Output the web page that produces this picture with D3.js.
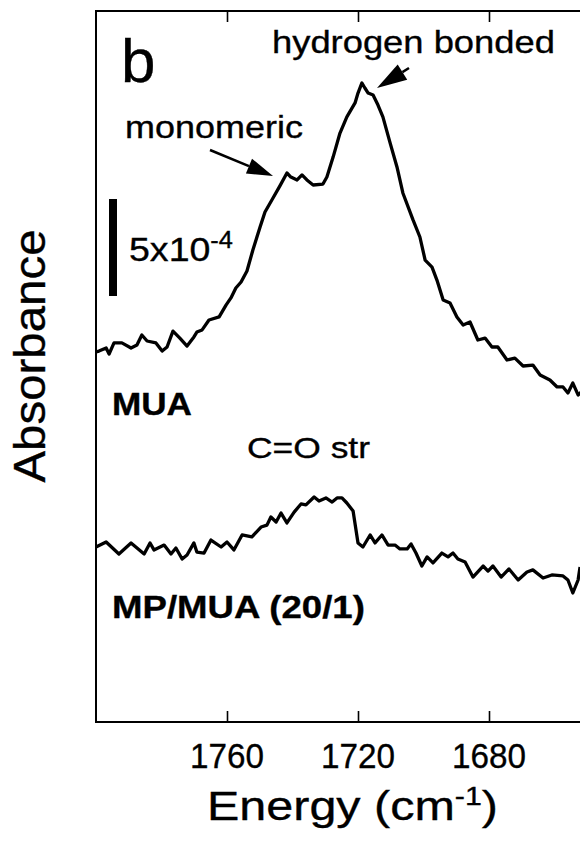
<!DOCTYPE html>
<html>
<head>
<meta charset="utf-8">
<script src="https://cdn.jsdelivr.net/npm/d3@7"></script>
<style>
  html, body { margin: 0; padding: 0; background: #fff; }
  svg { display: block; }
  text { font-family: "Liberation Sans", Arial, Helvetica, sans-serif; fill: #000; stroke: #000; stroke-width: 0.35; }
</style>
</head>
<body>
<div id="chart"></div>
<script>
// x ticks (cm-1)
const xTicks = [1760, 1720, 1680];
// MUA spectrum: wavenumber / absorbance (x1e-4, relative to its baseline)
const muaWn = [1800, 1799.1, 1796.9, 1796.0, 1794.5, 1792.1, 1789.3, 1787.5, 1786.0, 1784.4,
  1781.7, 1779.8, 1778.3, 1776.5, 1774.4, 1772.2, 1770.1, 1769.2, 1767.6, 1765.5,
  1762.4, 1760.3, 1758.8, 1757.3, 1755.7, 1753.9, 1752.1, 1749.9, 1748.4, 1746.3,
  1743.8, 1741.7, 1740.5, 1738.6, 1737.1, 1735.6, 1733.7, 1730.7, 1729.5, 1727.6,
  1725.5, 1723.4, 1720.9, 1720.0, 1718.8, 1717.9, 1716.9, 1715.4, 1713.9, 1712.4,
  1710.2, 1708.1, 1706.3, 1703.2, 1701.1, 1699.5, 1697.4, 1695.9, 1694.0, 1691.9,
  1689.8, 1687.9, 1685.8, 1683.4, 1681.2, 1679.1, 1677.3, 1674.5, 1672.1, 1669.6,
  1666.6, 1664.4, 1661.4, 1659.2, 1657.4, 1655.9, 1654.4, 1652.8, 1651.5];
const muaAbs = [0.07, 0.12, 0.28, -0.03, 0.54, 0.54, 0.28, 0.43, 0.95, 0.64,
  0.54, 0.12, 0.33, 1.15, 0.79, 0.38, 0.85, 1.10, 1.21, 1.72,
  1.88, 2.49, 2.86, 3.37, 3.68, 4.25, 5.33, 6.52, 7.29, 7.91,
  8.65, 9.30, 9.09, 8.94, 9.20, 8.94, 8.68, 8.73, 9.09, 10.12,
  11.36, 12.19, 12.91, 13.42, 13.94, 13.68, 13.42, 13.32, 12.80, 12.19,
  10.85, 9.61, 8.27, 6.88, 6.00, 4.81, 4.45, 3.78, 2.75, 2.60,
  1.88, 1.46, 1.62, 0.69, 0.79, 0.33, 0.33, -0.34, -0.24, -0.65,
  -0.60, -1.11, -1.37, -1.73, -1.73, -2.04, -1.53, -2.14, -1.95];
// MP/MUA (20/1) spectrum
const mpWn = [1800, 1796.9, 1793.0, 1789.3, 1785.3, 1783.5, 1782.3, 1779.2, 1777.1, 1775.6,
  1773.7, 1772.2, 1770.1, 1769.2, 1767.0, 1764.9, 1761.8, 1760.0, 1757.9, 1755.4,
  1752.4, 1749.6, 1747.8, 1746.6, 1745.0, 1743.5, 1741.7, 1739.5, 1737.4, 1735.9,
  1733.4, 1731.9, 1729.8, 1727.9, 1726.4, 1724.9, 1723.4, 1721.5, 1720.0, 1718.5,
  1716.3, 1714.8, 1712.7, 1710.8, 1708.7, 1707.2, 1705.0, 1703.8, 1702.3, 1700.5,
  1698.9, 1697.1, 1694.4, 1692.5, 1691.0, 1689.5, 1687.3, 1684.9, 1681.8, 1680.3,
  1678.8, 1676.3, 1673.9, 1671.1, 1668.4, 1666.6, 1663.5, 1660.8, 1657.4, 1655.9,
  1654.4, 1652.8, 1652.2];
const mpAbs = [0.02, 0.28, -0.34, 0.23, -0.34, 0.23, -0.13, 0.12, -0.34, -0.03,
  -0.60, -0.39, 0.23, -0.24, -0.29, 0.38, 0.02, 0.28, -0.13, 0.64,
  0.54, 1.05, 1.15, 1.57, 1.31, 1.77, 1.26, 1.82, 2.24, 2.19,
  2.60, 2.39, 2.55, 2.34, 2.55, 2.55, 2.29, 1.88, 0.23, 0.02,
  0.64, 0.23, 0.64, 0.12, 0.12, -0.08, -0.08, 0.18, -0.29, -0.96,
  -0.49, -0.80, -0.29, -0.49, -0.29, -0.60, -0.75, -1.53, -0.96, -1.22,
  -0.96, -1.53, -1.11, -1.68, -1.27, -1.16, -1.58, -1.42, -1.47, -1.68,
  -2.35, -1.68, -1.01];
// vertical offsets of the stacked spectra (x1e-4)
const muaOffset = 19;
const mpOffset = 9;
// scale bar: 5x10^-4
const barBase = 21.96;
const barSize = 5;

const width = 580;
const height = 842;
const margin = { top: 11, left: 96, bottom: 120 };

const svg = d3.select('#chart').append('svg')
  .attr('width', width)
  .attr('height', height);

const x = d3.scaleLinear()
  .domain([1800, 1640])
  .range([margin.left, 620]);
const y = d3.scaleLinear()
  .domain([0, 36.65])
  .range([height - margin.bottom, margin.top]);

// stretch a text horizontally so it covers the given width
function fit (sel, px, py, w) {
  const bw = sel.node().getComputedTextLength();
  sel.attr('transform', `translate(${px},${py}) scale(${w / bw},1)`);
}

// frame ------------------------------------------------------------------
const yBot = y(0);
const yTop = y(36.65);
svg.append('path')
  .attr('d', `M${width + 5},${yTop}H${x(1800)}V${yBot}H${width + 5}`)
  .attr('fill', 'none')
  .attr('stroke', '#000')
  .attr('stroke-width', 2);

// x axes (ticks in, top and bottom)
const xAxisB = d3.axisBottom(x).tickValues(xTicks).tickSize(-11).tickFormat('');
const xAxisT = d3.axisTop(x).tickValues(xTicks).tickSize(-11).tickFormat('');
svg.append('g').attr('transform', `translate(0,${yBot})`).call(xAxisB)
  .call(g => g.select('.domain').remove())
  .selectAll('line').attr('stroke-width', 1.6);
svg.append('g').attr('transform', `translate(0,${yTop})`).call(xAxisT)
  .call(g => g.select('.domain').remove())
  .selectAll('line').attr('stroke-width', 1.6);

// tick labels
svg.selectAll('.tick-label')
  .data(xTicks)
  .enter()
  .append('text')
  .attr('class', 'tick-label')
  .attr('font-size', 35)
  .text(d => d)
  .each(function (d) {
    const t = d3.select(this);
    const bw = this.getComputedTextLength();
    t.attr('transform', `translate(${x(d) - 37},768) scale(${74 / bw},1)`);
  });

// axis titles
const xt = svg.append('text').attr('font-size', 40);
xt.append('tspan').text('Energy (cm');
xt.append('tspan').attr('font-size', 25).attr('dy', -15).text('-1');
xt.append('tspan').attr('dy', 15).text(')');
fit(xt, 207, 820, 291);

const yt = svg.append('text')
  .attr('font-size', 44)
  .attr('text-anchor', 'middle')
  .text('Absorbance');
yt.attr('transform', 'translate(45,356) rotate(-90)')
  .attr('textLength', 253)
  .attr('lengthAdjust', 'spacingAndGlyphs');

// spectra ----------------------------------------------------------------
const line = d3.line().x(d => x(d[0])).y(d => y(d[1]));
const muaData = muaWn.map((w, i) => [w, muaAbs[i] + muaOffset]);
const mpData = mpWn.map((w, i) => [w, mpAbs[i] + mpOffset]);

[muaData, mpData].forEach(data => {
  svg.append('path')
    .datum(data)
    .attr('d', line)
    .attr('fill', 'none')
    .attr('stroke', '#000')
    .attr('stroke-width', 3.3)
    .attr('stroke-linejoin', 'round');
});

// scale bar
svg.append('line')
  .attr('x1', 113).attr('x2', 113)
  .attr('y1', y(barBase)).attr('y2', y(barBase + barSize))
  .attr('stroke', '#000')
  .attr('stroke-width', 8);
const sb = svg.append('text').attr('font-size', 34);
sb.append('tspan').text('5x10');
sb.append('tspan').attr('font-size', 23).attr('dy', -13).text('-4');
fit(sb, 129, 261, 104);

// labels -----------------------------------------------------------------
svg.append('text')
  .attr('x', 121).attr('y', 82)
  .attr('font-size', 62)
  .text('b');

const hb = svg.append('text').attr('font-size', 32).text('hydrogen bonded');
fit(hb, 272, 53, 283);
const mo = svg.append('text').attr('font-size', 32).text('monomeric');
fit(mo, 125, 138, 178);
const mu = svg.append('text').attr('font-size', 32).attr('font-weight', 'bold').text('MUA');
fit(mu, 112, 415, 80);
const co = svg.append('text').attr('font-size', 30).text('C=O str');
fit(co, 247, 458, 123);
const mp = svg.append('text').attr('font-size', 32).attr('font-weight', 'bold').text('MP/MUA (20/1)');
fit(mp, 112, 618, 253);

// arrows
function arrow (x1, y1, x2, y2, len, half) {
  const a = Math.atan2(y2 - y1, x2 - x1);
  const bx = x2 - len * Math.cos(a);
  const by = y2 - len * Math.sin(a);
  svg.append('line')
    .attr('x1', x1).attr('y1', y1).attr('x2', bx).attr('y2', by)
    .attr('stroke', '#000').attr('stroke-width', 2.5);
  const px = -Math.sin(a) * half;
  const py = Math.cos(a) * half;
  svg.append('path')
    .attr('d', `M${x2},${y2}L${bx + px},${by + py}L${bx - px},${by - py}Z`)
    .attr('fill', '#000');
}
arrow(210, 150, 273, 176, 26, 8);
arrow(409, 68, 377, 88, 30, 9);
</script>
</body>
</html>
